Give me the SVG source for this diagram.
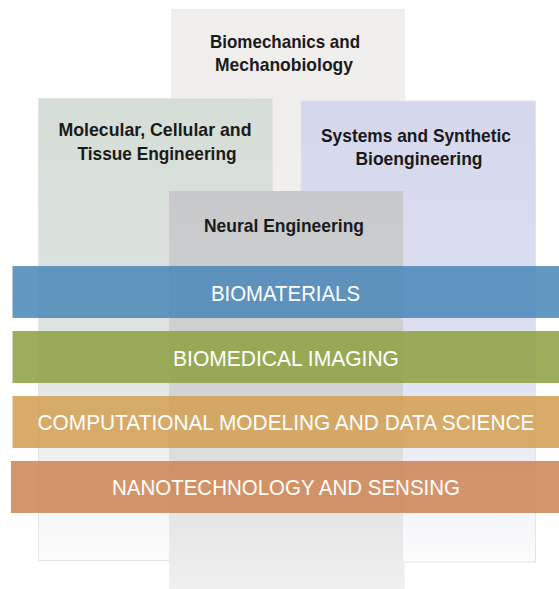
<svg xmlns="http://www.w3.org/2000/svg" width="559" height="589" viewBox="0 0 559 589">
<style>
.title{font-family:"Liberation Sans",Arial,sans-serif;font-weight:bold;font-size:18.5px;fill:#1a1a1a;text-anchor:middle}
.band-label{font-family:"Liberation Sans",Arial,sans-serif;font-size:21.5px;fill:#ffffff;text-anchor:middle}
.col{stroke:#e4e4e4;stroke-width:1}
.band{opacity:0.88}
</style>
<defs>
<linearGradient id="gMech" x1="0" y1="0" x2="0" y2="1"><stop offset="0" stop-color="#efeeed"/><stop offset="1" stop-color="#f3f2f1"/></linearGradient>
<linearGradient id="gMol" x1="0" y1="0" x2="0" y2="1"><stop offset="0" stop-color="#d5ddd7"/><stop offset="0.55" stop-color="#dfe5e1"/><stop offset="1" stop-color="#fcfcfc"/></linearGradient>
<linearGradient id="gSys" x1="0" y1="0" x2="0" y2="1"><stop offset="0" stop-color="#d5d8ed"/><stop offset="0.55" stop-color="#dcdff0"/><stop offset="1" stop-color="#fcfcfd"/></linearGradient>
<linearGradient id="gNeu" x1="0" y1="0" x2="0" y2="1"><stop offset="0" stop-color="#c7c8ca"/><stop offset="0.5" stop-color="#d2d3d5"/><stop offset="1" stop-color="#f0f0f1"/></linearGradient>
</defs>

<g id="biomechanics">
<rect x="171" y="9" width="234" height="580" fill="url(#gMech)"/>
<text class="title" x="285" y="48" textLength="150" lengthAdjust="spacingAndGlyphs">Biomechanics and</text>
<text class="title" x="284" y="70.5" textLength="138" lengthAdjust="spacingAndGlyphs">Mechanobiology</text>
</g>

<g id="molecular">
<rect class="col" x="38.5" y="98.5" width="234" height="462" fill="url(#gMol)" stroke="#cfcfcf"/>
<text class="title" x="155" y="136" textLength="193" lengthAdjust="spacingAndGlyphs">Molecular, Cellular and</text>
<text class="title" x="157" y="159.5" textLength="159" lengthAdjust="spacingAndGlyphs">Tissue Engineering</text>
</g>

<g id="systems">
<rect class="col" x="301" y="101" width="234.5" height="461" fill="url(#gSys)"/>
<text class="title" x="416" y="141.5" textLength="190" lengthAdjust="spacingAndGlyphs">Systems and Synthetic</text>
<text class="title" x="419" y="164.5" textLength="127" lengthAdjust="spacingAndGlyphs">Bioengineering</text>
</g>

<g id="neural">
<rect x="169" y="191" width="234" height="398" fill="url(#gNeu)"/>
<text class="title" x="284" y="232" textLength="160" lengthAdjust="spacingAndGlyphs">Neural Engineering</text>
</g>

<g id="biomaterials">
<rect class="band" x="12.5" y="266" width="547" height="52" fill="#4e8aba"/>
<text class="band-label" x="285.5" y="301" textLength="149" lengthAdjust="spacingAndGlyphs">BIOMATERIALS</text>
</g>

<g id="biomedical-imaging">
<rect class="band" x="12.5" y="331" width="547" height="52" fill="#8fa344"/>
<text class="band-label" x="286" y="365.5" textLength="226" lengthAdjust="spacingAndGlyphs">BIOMEDICAL IMAGING</text>
</g>

<g id="computational">
<rect class="band" x="12.5" y="396" width="547" height="52" fill="#d4a055"/>
<text class="band-label" x="286" y="430" textLength="497" lengthAdjust="spacingAndGlyphs">COMPUTATIONAL MODELING AND DATA SCIENCE</text>
</g>

<g id="nanotechnology">
<rect class="band" x="11" y="461" width="548.5" height="52" fill="#cf8656"/>
<text class="band-label" x="286" y="495" textLength="348" lengthAdjust="spacingAndGlyphs">NANOTECHNOLOGY AND SENSING</text>
</g>

<g id="connectors"/>
</svg>
